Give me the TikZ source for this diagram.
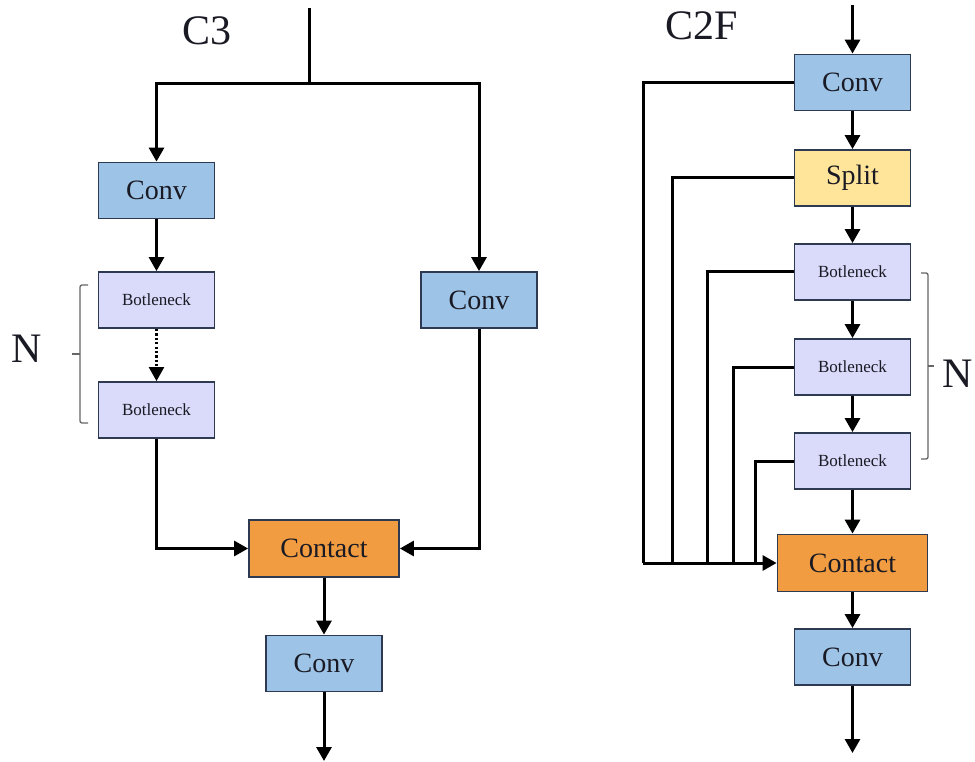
\documentclass[tikz,border=0pt]{standalone}
\usepackage{fontspec}
\setmainfont{Liberation Serif}
\usetikzlibrary{arrows.meta}
\definecolor{convblue}{RGB}{157,195,230}
\definecolor{botlav}{RGB}{218,218,250}
\definecolor{catorange}{RGB}{241,156,64}
\definecolor{splityel}{RGB}{255,229,153}
\definecolor{boxedge}{RGB}{46,58,82}
\definecolor{txt}{RGB}{26,26,36}
\tikzset{
  box/.style={draw=boxedge, line width=1.8pt, inner sep=0pt, text=txt, anchor=center},
  convbox/.style={box, fill=convblue, minimum width=116pt, minimum height=56pt, font=\fontsize{28}{30}\selectfont},
  botbox/.style={box, fill=botlav, minimum width=116pt, minimum height=56pt, font=\fontsize{17}{19}\selectfont},
  catbox/.style={box, fill=catorange, minimum width=150pt, minimum height=57pt, font=\fontsize{28}{30}\selectfont},
  splitbox/.style={box, fill=splityel, minimum width=116pt, minimum height=56pt, font=\fontsize{28}{30}\selectfont},
  wire/.style={line width=3pt, draw=black},
  tip/.style={-{Triangle[length=14pt,width=15pt]}},
  arr/.style={wire, tip},
  brace/.style={draw=black!60, line width=1.3pt, rounded corners=2pt},
  bigtext/.style={font=\fontsize{42}{44}\selectfont, text=txt, anchor=base, inner sep=0pt},
}
\begin{document}
\begin{tikzpicture}[x=1pt,y=-1pt]
\useasboundingbox[fill=white] (0,0) rectangle (975,762);

% ---------- C3 ----------
\node[bigtext] (c3label) at (207,45) {C3};
\node[convbox] (c3conv1) at (156.5,190.5) {Conv};
\node[botbox]  (c3b1)    at (156.5,300) {Botleneck};
\node[botbox]  (c3b2)    at (156.5,410) {Botleneck};
\node[convbox] (c3conv2) at (479,300) {Conv};
\node[catbox]  (c3cat)   at (324,548.5) {Contact};
\node[convbox] (c3conv3) at (324,663.5) {Conv};
\coordinate (c3in) at (309,8);
\coordinate (c3j) at (309,84);
\coordinate (c3out) at (324,761);

\draw[wire] (c3in) -- (c3j);
\draw[arr] (c3j) -| (c3conv1.north);
\draw[arr] (c3j) -| (c3conv2.north);
\draw[arr] (c3conv1.south) -- (c3b1.north);
\draw[line width=2.2pt, dash pattern=on 2.2pt off 2.2pt, tip] (c3b1.south) -- (c3b2.north);
\draw[arr] (c3b2.south) |- (c3cat.west);
\draw[arr] (c3conv2.south) |- (c3cat.east);
\draw[arr] (c3cat.south) -- (c3conv3.north);
\draw[arr] (c3conv3.south) -- (c3out);

\coordinate (lbt) at (88,285);
\coordinate (lbb) at (88,423);
\draw[brace] (lbt) -- (80,285) -- (80,423) -- (lbb);
\draw[brace] (80,354) -- (72,354);
\node[bigtext] (c3n) at (27,362) {N};

% ---------- C2F ----------
\node[bigtext] (c2label) at (702,40) {C2F};
\node[convbox]  (c2conv1) at (852.5,82.5) {Conv};
\node[splitbox] (c2split) at (852.5,178) {Split};
\node[botbox]   (c2b1)    at (852.5,272) {Botleneck};
\node[botbox]   (c2b2)    at (852.5,367) {Botleneck};
\node[botbox]   (c2b3)    at (852.5,461) {Botleneck};
\node[catbox]   (c2cat)   at (852.5,563) {Contact};
\node[convbox]  (c2conv2) at (852.5,657) {Conv};
\coordinate (c2in) at (852.5,5);
\coordinate (c2out) at (852.5,753);
\coordinate (c2x1) at (643,563);
\coordinate (c2x2) at (672,563);
\coordinate (c2x3) at (707,563);
\coordinate (c2x4) at (733,563);
\coordinate (c2x5) at (755,563);

\draw[arr] (c2in) -- (c2conv1.north);
\draw[arr] (c2conv1.south) -- (c2split.north);
\draw[arr] (c2split.south) -- (c2b1.north);
\draw[arr] (c2b1.south) -- (c2b2.north);
\draw[arr] (c2b2.south) -- (c2b3.north);
\draw[arr] (c2b3.south) -- (c2cat.north);
\draw[arr] (c2cat.south) -- (c2conv2.north);
\draw[arr] (c2conv2.south) -- (c2out);

\draw[wire] (c2conv1.west) -| (c2x1);
\draw[wire] (c2split.west) -| (c2x2);
\draw[wire] (c2b1.west) -| (c2x3);
\draw[wire] (c2b2.west) -| (c2x4);
\draw[wire] (c2b3.west) -| (c2x5);
\draw[arr] (c2x1) -- (c2cat.west);

\draw[brace] (921,273) -- (928,273) -- (928,459) -- (921,459);
\draw[brace] (928,366) -- (934,366);
\node[bigtext, anchor=base west] (c2n) at (942,387) {N};
\end{tikzpicture}
\end{document}
